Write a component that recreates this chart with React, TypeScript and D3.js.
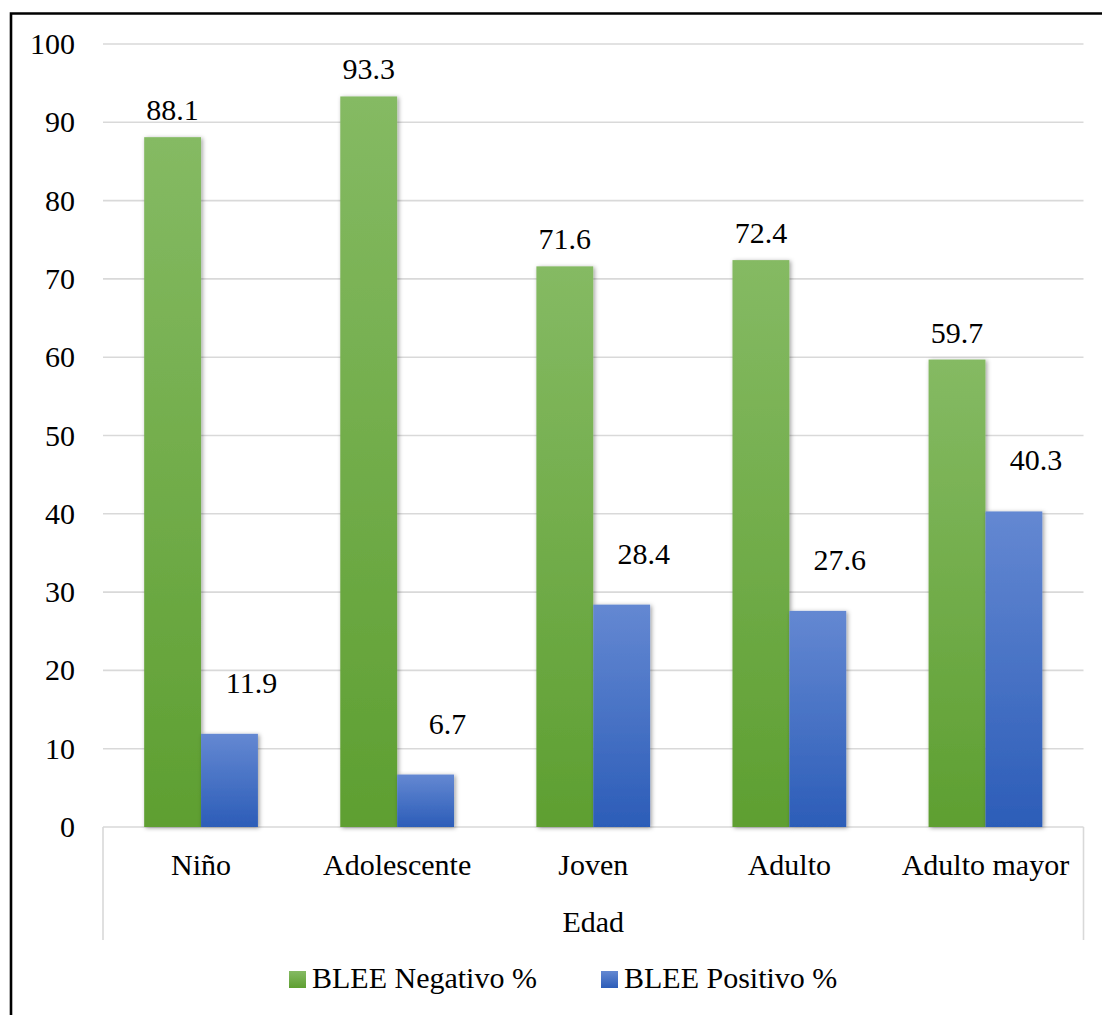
import React from "react";
import * as d3 from "d3";

// Age groups and the share of BLEE-negative / BLEE-positive isolates (%)
const categories = ["Niño", "Adolescente", "Joven", "Adulto", "Adulto mayor"];
const negativo = [88.1, 93.3, 71.6, 72.4, 59.7];
const positivo = [11.9, 6.7, 28.4, 27.6, 40.3];
const seriesNames = ["BLEE Negativo %", "BLEE Positivo %"];
const yTicks = [0, 10, 20, 30, 40, 50, 60, 70, 80, 90, 100];
const axisTitle = "Edad";

const W = 1102;
const H = 1015;
const FONT =
  '"Liberation Serif", Tinos, "Times New Roman", Times, "Nimbus Roman", "Nimbus Roman No9 L", FreeSerif, "Noto Serif", "DejaVu Serif", "Noto Serif CJK SC", serif';
const FS = 30;

const plot = { left: 103, right: 1083.5, top: 44, bottom: 827 };

// visual style per series: gradient stops and value-label nudges
const seriesStyle = [
  { id: "gNeg", top: "#85ba63", bottom: "#5e9f31", labelDx: 0, labelDy: 17 },
  { id: "gPos", top: "#6488d2", bottom: "#2c5db8", labelDx: 22, labelDy: 41 },
];

const txt = { fontFamily: FONT, fontSize: FS, fill: "#000" } as React.CSSProperties;

export default function App() {
  const x0 = d3
    .scaleBand<string>()
    .domain(categories)
    .range([plot.left, plot.right])
    .paddingInner(0.42)
    .paddingOuter(0.21);
  const x1 = d3
    .scaleBand<string>()
    .domain(seriesNames)
    .range([0, x0.bandwidth()])
    .padding(0);
  const y = d3.scaleLinear().domain([0, 100]).range([plot.bottom, plot.top]);

  const series = [negativo, positivo];
  const midX = (plot.left + plot.right) / 2;

  return (
    <svg
      width={W}
      height={H}
      viewBox={`0 0 ${W} ${H}`}
      style={{ position: "absolute", left: 0, top: 0, background: "#fff", fontFamily: FONT }}
    >
      <defs>
        {seriesStyle.map((s) => (
          <linearGradient key={s.id} id={s.id} x1="0" y1="0" x2="0" y2="1">
            <stop offset="0" stopColor={s.top} />
            <stop offset="1" stopColor={s.bottom} />
          </linearGradient>
        ))}
        <filter id="barShadow" x="-30%" y="-10%" width="160%" height="120%">
          <feDropShadow dx="1.5" dy="1" stdDeviation="2.2" floodColor="#000" floodOpacity="0.38" />
        </filter>
      </defs>

      <rect x={0} y={0} width={W} height={H} fill="#fff" />

      {/* frame */}
      <path
        d={`M11,${H + 10} L11,13.5 L${W + 10},13.5`}
        fill="none"
        stroke="#000"
        strokeWidth={2.6}
      />

      {/* gridlines */}
      {yTicks.map((t) => (
        <line
          key={`g${t}`}
          x1={plot.left}
          x2={plot.right}
          y1={y(t)}
          y2={y(t)}
          stroke="#d9d9d9"
          strokeWidth={1.6}
        />
      ))}

      {/* category axis box edges */}
      <line x1={plot.left} x2={plot.left} y1={plot.bottom} y2={940} stroke="#d9d9d9" strokeWidth={1.6} />
      <line x1={plot.right} x2={plot.right} y1={plot.bottom} y2={940} stroke="#d9d9d9" strokeWidth={1.6} />

      {/* y tick labels */}
      {yTicks.map((t) => (
        <text key={`t${t}`} x={75} y={y(t) + 10} textAnchor="end" style={txt}>
          {t}
        </text>
      ))}

      {/* bars */}
      {categories.map((c, i) => (
        <g key={c} transform={`translate(${x0(c)},0)`}>
          {series.map((vals, si) => (
            <rect
              key={si}
              x={x1(seriesNames[si])}
              y={y(vals[i])}
              width={x1.bandwidth()}
              height={y(0) - y(vals[i])}
              fill={`url(#${seriesStyle[si].id})`}
              filter="url(#barShadow)"
            />
          ))}
        </g>
      ))}

      {/* value labels */}
      {categories.map((c, i) =>
        series.map((vals, si) => (
          <text
            key={`${c}-${si}`}
            x={(x0(c) as number) + (x1(seriesNames[si]) as number) + x1.bandwidth() / 2 + seriesStyle[si].labelDx}
            y={y(vals[i]) - seriesStyle[si].labelDy}
            textAnchor="middle"
            style={txt}
          >
            {vals[i].toFixed(1)}
          </text>
        ))
      )}

      {/* category labels */}
      {categories.map((c) => (
        <text
          key={`c${c}`}
          x={(x0(c) as number) + x0.bandwidth() / 2}
          y={875}
          textAnchor="middle"
          style={txt}
        >
          {c}
        </text>
      ))}

      <text x={midX} y={932} textAnchor="middle" style={txt}>
        {axisTitle}
      </text>

      {/* legend */}
      {seriesNames.map((name, si) => {
        const lx = si === 0 ? 289 : 601;
        return (
          <g key={name}>
            <rect x={lx} y={971} width={17} height={17} fill={`url(#${seriesStyle[si].id})`} />
            <text x={lx + 23} y={988} style={txt}>
              {name}
            </text>
          </g>
        );
      })}
    </svg>
  );
}
